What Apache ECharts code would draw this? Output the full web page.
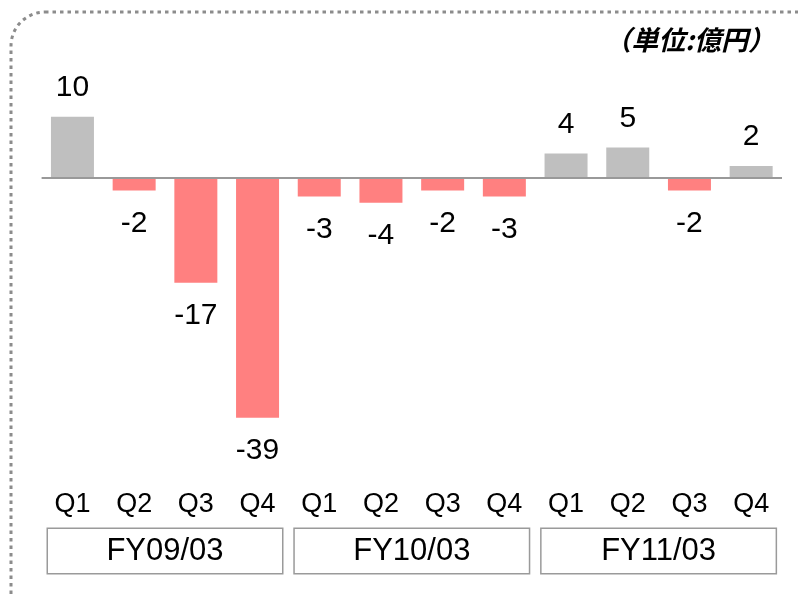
<!DOCTYPE html>
<html>
<head>
<meta charset="utf-8">
<script src="https://cdn.jsdelivr.net/npm/echarts@6/dist/echarts.min.js"></script>
<style>
html,body{margin:0;padding:0;background:#fff;}
#chart{width:798px;height:596px;}
</style>
</head>
<body>
<div id="chart"></div>
<script>
var quarters = ['Q1','Q2','Q3','Q4','Q1','Q2','Q3','Q4','Q1','Q2','Q3','Q4'];
var fiscalYears = ['FY09/03','FY10/03','FY11/03'];
var values = [10, -2, -17, -39, -3, -4, -2, -3, 4, 5, -2, 2];
var unitLabel = '（単位:億円）';

var chart = echarts.init(document.getElementById('chart'), null, {renderer:'canvas'});
var font = '"Liberation Sans", Arial, sans-serif';

var option = {
  backgroundColor: '#fff',
  animation: false,
  title: {
    text: unitLabel,
    right: 18, top: 21,
    textStyle: {fontFamily: '"Noto Sans CJK JP", sans-serif', fontSize: 27, fontWeight: 'bold', fontStyle: 'italic', color: '#000'}
  },
  graphic: [{
    type: 'rect', silent: true, z: -1,
    shape: {x: 11, y: 12, width: 820, height: 620, r: 34},
    style: {fill: 'none', stroke: '#8c8c8c', lineWidth: 3, lineDash: [3.5, 4]}
  }],
  grid: {left: 41.6, right: 16, top: 86, bottom: 172},
  xAxis: [{
    type: 'category',
    data: quarters,
    position: 'bottom',
    axisLine: {show: false},
    axisTick: {show: false},
    axisLabel: {fontFamily: font, fontSize: 27, color: '#000', margin: 67, interval: 0}
  }, {
    type: 'category',
    data: fiscalYears,
    position: 'bottom',
    axisLine: {show: false},
    axisTick: {show: false},
    axisLabel: {
      fontFamily: font, fontSize: 31, color: '#000', interval: 0, margin: 105,
      width: 234, height: 44, lineHeight: 44, align: 'center', verticalAlign: 'top',
      borderColor: '#9a9a9a', borderWidth: 1.5, backgroundColor: '#fff'
    }
  }],
  yAxis: {
    type: 'value', min: -40, max: 15,
    show: false,
    splitLine: {show: false}
  },
  series: [{
    type: 'bar',
    xAxisIndex: 0,
    barWidth: 43,
    data: values.map(function(v){
      return {
        value: v,
        itemStyle: {color: v >= 0 ? '#bfbfbf' : '#ff8080'},
        label: {position: v >= 0 ? 'top' : 'bottom', distance: v >= 0 ? 14 : 18}
      };
    }),
    label: {
      show: true,
      fontFamily: font, fontSize: 30, color: '#000',
      formatter: function(p){ return String(p.value); }
    },
    markLine: {
      silent: true, symbol: 'none', label: {show: false},
      lineStyle: {color: '#999', width: 2, type: 'solid'},
      data: [{yAxis: 0}]
    }
  }]
};
chart.setOption(option);
</script>
</body>
</html>
